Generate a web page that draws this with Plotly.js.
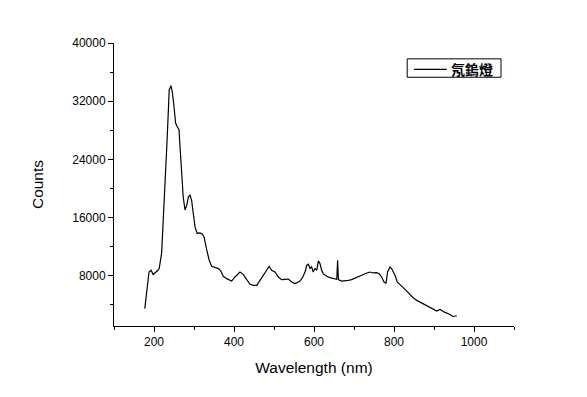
<!DOCTYPE html>
<html>
<head>
<meta charset="utf-8">
<script src="https://cdn.plot.ly/plotly-3.0.1.min.js"></script>
<style>html,body{margin:0;padding:0;background:#fff;}#chart{width:587px;height:397px;}</style>
</head>
<body>
<div id="chart"></div>
<script>
const seriesName = "氖鎢燈";
const wavelength = [177,187.5,192.5,198,208,213,219,223,227.5,232,236,238,242.5,246,250,254,258,262.5,265,269,273,277.5,282,286,290,294,298,302.5,308,315,321,325,332,338,344,352.5,361,367,373,382,390,394,402.5,411,415,423,432,440,448,457,465,473,482,488,494,502.5,511,519,527.5,536,544,552.5,561,565,572,577.5,582,586,590,594,598,602.5,607,611,615,619,623,632,640,648,657,659,661,669,677.5,686,694,707,719,732,740,748,757,763,769,775,780,784,790,794,798,802.5,808,815,823,832,840,848,857,865,873,882,890,898,907,915,919,927.5,936,944,948,957];
const counts = [3480,8520,8760,8170,8660,8990,11100,15240,19790,25770,30830,33590,34140,33130,31280,28990,28520,28070,25770,22100,18870,17040,17720,18870,19100,18410,16580,14730,13820,13900,13720,13350,11520,10140,9310,9130,8990,8660,7930,7610,7380,7280,7840,8300,8520,8200,7380,6830,6690,6690,7380,8070,8760,9310,8760,8520,7840,7480,7520,7560,7150,6920,7150,7270,7840,8520,9450,9590,9000,9220,8520,9000,8760,10040,9680,8760,8300,7930,7750,7610,7520,10140,7480,7280,7280,7380,7480,7750,8070,8390,8520,8390,8440,8300,7840,7150,7000,8520,9220,9000,8520,8070,7150,6830,6370,5900,5410,4990,4620,4390,4170,3840,3610,3340,3150,3380,3240,2970,2790,2550,2410,2510];
const xTickVals = [200,400,600,800,1000];
const yTickVals = [8000,16000,24000,32000,40000];

const trace = {
  x: wavelength, y: counts, type: 'scatter', mode: 'lines', name: seriesName,
  line: {color: '#000', width: 1.2}, showlegend: false
};
const axisFont = {family: 'Liberation Sans, Arial, sans-serif', size: 12, color: '#000'};
const titleFont = {family: 'Liberation Sans, Arial, sans-serif', size: 15.5, color: '#000'};
const layout = {
  width: 587, height: 397,
  margin: {l: 114, r: 73, t: 43, b: 71, pad: 0},
  paper_bgcolor: '#fff', plot_bgcolor: '#fff',
  showlegend: false,
  shapes: [
    {type: 'rect', xref: 'paper', yref: 'paper', x0: 0.733, x1: 0.9675, y0: 0.879, y1: 0.944,
     line: {color: '#000', width: 1}, fillcolor: '#fff'},
    {type: 'line', xref: 'paper', yref: 'paper', x0: 0.75, x1: 0.832, y0: 0.907, y1: 0.907,
     line: {color: '#000', width: 1.2}}
  ],
  annotations: [
    {xref: 'paper', yref: 'paper', x: 0.8945, y: 0.908, xanchor: 'center', yanchor: 'middle',
     text: '<b>' + seriesName + '</b>', showarrow: false,
     font: {family: 'Noto Sans CJK TC, sans-serif', size: 14, color: '#000'}}
  ],
  xaxis: {
    range: [100, 1100], tickvals: xTickVals, ticktext: xTickVals.map(String),
    showline: true, linecolor: '#000', linewidth: 1, mirror: false,
    ticks: 'outside', ticklen: 5, tickwidth: 1, tickcolor: '#000',
    minor: {dtick: 100, tick0: 0, ticks: 'outside', ticklen: 3, tickwidth: 1, tickcolor: '#000', showgrid: false},
    showgrid: false, zeroline: false, tickfont: axisFont,
    title: {text: 'Wavelength (nm)', font: titleFont, standoff: 13}
  },
  yaxis: {
    range: [1100, 40000], tickvals: yTickVals, ticktext: yTickVals.map(String),
    showline: true, linecolor: '#000', linewidth: 1, mirror: false,
    ticks: 'outside', ticklen: 5, tickwidth: 1, tickcolor: '#000',
    minor: {dtick: 4000, tick0: 0, ticks: 'outside', ticklen: 3, tickwidth: 1, tickcolor: '#000', showgrid: false},
    showgrid: false, zeroline: false, tickfont: axisFont,
    title: {text: 'Counts', font: titleFont, standoff: 24}
  }
};
Plotly.newPlot('chart', [trace], layout, {displayModeBar: false, staticPlot: true});
</script>
</body>
</html>
